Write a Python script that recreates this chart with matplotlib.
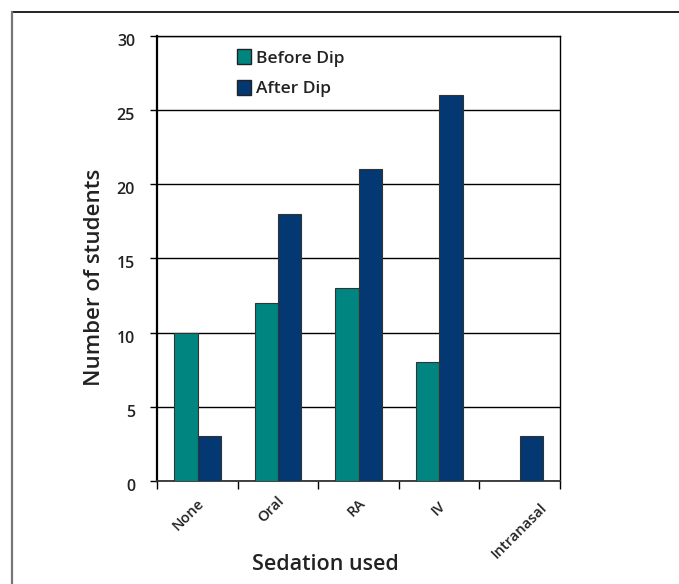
import numpy as np
import matplotlib.pyplot as plt
from matplotlib.lines import Line2D
from matplotlib.patches import Patch
from matplotlib.transforms import ScaledTranslation

categories = ['None', 'Oral', 'RA', 'IV', 'Intranasal']
before_dip = [10, 12, 13, 8, 0]
after_dip = [3, 18, 21, 26, 3]
y_ticks = [0, 5, 10, 15, 20, 25, 30]

TEAL = '#008580'
NAVY = '#033872'
TXT = '#222222'
FONT = ['Open Sans', 'DejaVu Sans']

plt.rcParams['font.family'] = FONT

fig = plt.figure(figsize=(6.79, 5.84), dpi=100)
ax = fig.add_axes([0.2317, 0.1764, 0.5930, 0.7625])

x = np.arange(len(categories))
w = 0.29
ax.bar(x - w / 2, before_dip, w, color=TEAL, edgecolor='#333333', linewidth=0.8, zorder=3)
ax.bar(x + w / 2, after_dip, w, color=NAVY, edgecolor='#333333', linewidth=0.8, zorder=3)

ax.set_xlim(-0.5, len(categories) - 0.5)
ax.set_ylim(0, 30)
ax.set_yticks(y_ticks)
ax.set_yticklabels([str(v) for v in y_ticks], fontsize=11.5, fontweight='semibold', color=TXT, va='top')
ax.yaxis.grid(True, color='black', linewidth=1.0, zorder=1)
ax.tick_params(axis='y', length=5, width=1, pad=11)
# nudge y labels so their top sits on the tick
for lab in ax.get_yticklabels():
    lab.set_transform(lab.get_transform() + ScaledTranslation(0, 2 / 100, fig.dpi_scale_trans))

# category boundaries as ticks, labels at centres
ax.set_xticks(np.arange(len(categories) + 1) - 0.5)
ax.set_xticklabels([])
ax.tick_params(axis='x', which='major', length=6, width=1, direction='out')
ax.set_xticks(x, minor=True)
ax.set_xticklabels(categories, minor=True, rotation=45, ha='right', va='center',
                   rotation_mode='anchor', fontsize=10.5, fontweight='semibold', color=TXT)
ax.tick_params(axis='x', which='minor', length=0, pad=12)
shifts = [(4, -3), (4, -1), (4, -3), (4, -6), (25, -8)]  # px, Excel nudged the long label
for lab, (dx, dy) in zip(ax.get_xticklabels(minor=True), shifts):
    lab.set_transform(lab.get_transform() + ScaledTranslation(dx / 100, dy / 100, fig.dpi_scale_trans))

for s in ax.spines.values():
    s.set_linewidth(1.0)
    s.set_color('black')
ax.spines['left'].set_linewidth(1.6)
ax.spines['bottom'].set_linewidth(1.3)
ax.spines['bottom'].set_color('#333333')

ax.set_ylabel('Number of students', fontsize=16, fontweight='semibold', color=TXT)
ax.yaxis.set_label_coords(-0.131, 0.457)
ax.set_xlabel('Sedation used', fontsize=15.5, fontweight='semibold', color=TXT)
ax.xaxis.set_label_coords(0.418, -0.164)

handles = [Patch(facecolor=TEAL, edgecolor=TXT, linewidth=1.0),
           Patch(facecolor=NAVY, edgecolor=TXT, linewidth=1.0)]
leg = ax.legend(handles, ['Before Dip', 'After Dip'], loc='upper left',
                bbox_to_anchor=(0.16, 1.005), frameon=False,
                handlelength=0.8, handleheight=0.95, handletextpad=0.3, labelspacing=0.75,
                prop={'family': FONT, 'weight': 'semibold', 'size': 12.5})
for t in leg.get_texts():
    t.set_color(TXT)

# outer frame (top and left only)
fig.add_artist(Line2D([12 / 679, 1.0], [1 - 12 / 584, 1 - 12 / 584], color='#111111', linewidth=1.3))
fig.add_artist(Line2D([12 / 679, 12 / 679], [0, 1 - 12 / 584], color='#777777', linewidth=1.6))

fig.savefig('out.png', dpi=100)
